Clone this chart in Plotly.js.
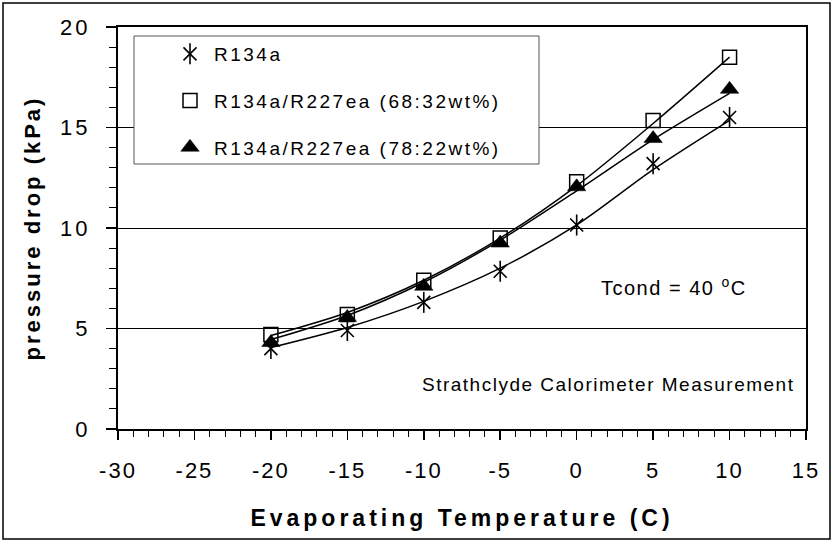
<!DOCTYPE html>
<html>
<head>
<meta charset="utf-8">
<script src="https://cdn.plot.ly/plotly-3.0.1.min.js"></script>
<style>
  body { margin: 0; padding: 0; background: #fff; }
  #chart { width: 834px; height: 544px; }
  .xtick text { letter-spacing: 2px; }
  .ytick text { letter-spacing: 3px; }
  .legendtext { letter-spacing: 2.5px; }
  text.xtitle { letter-spacing: 4px; }
  text.ytitle { letter-spacing: 3px; }
  .annotation-text { letter-spacing: 1.5px; }
</style>
</head>
<body>
<div id="chart"></div>
<script>
// Evaporating temperature (C)
const evapTemp = [-20, -15, -10, -5, 0, 5, 10];

// Measured pressure drop (kPa)
const r134a      = [4.0, 4.9, 6.3, 7.85, 10.15, 13.2, 15.5];
const mix6832    = [4.7, 5.7, 7.4, 9.5, 12.3, 15.35, 18.5];
const mix7822    = [4.3, 5.55, 7.1, 9.25, 12.05, 14.45, 16.9];

// Trend curves (kPa)
const r134aTrend   = [4.05, 5.05, 6.35, 8.0, 10.15, 12.9, 15.35];
const mix6832Trend = [4.65, 5.8, 7.4, 9.5, 12.1, 15.2, 18.5];
const mix7822Trend = [4.45, 5.65, 7.3, 9.4, 11.85, 14.4, 16.7];

// Series names
const seriesNames = ["R134a", "R134a/R227ea (68:32wt%)", "R134a/R227ea (78:22wt%)"];

// Tick labels (plain hyphen as in the reference)
const xTickVals = [-30, -25, -20, -15, -10, -5, 0, 5, 10, 15];
const xTickText = ["-30", "-25", "-20", "-15", "-10", "-5", "0", "5", "10", "15"];
const yTickVals = [0, 5, 10, 15, 20];
const yTickText = ["0", "5", "10", "15", "20"];

const FONT = "Liberation Sans, Arial, sans-serif";
const lineStyle = {color: "black", width: 1.5, shape: "spline", smoothing: 0.8};

const traces = [
  {x: evapTemp, y: mix6832Trend, mode: "lines", line: lineStyle, showlegend: false, hoverinfo: "skip"},
  {x: evapTemp, y: mix7822Trend, mode: "lines", line: lineStyle, showlegend: false, hoverinfo: "skip"},
  {x: evapTemp, y: r134aTrend, mode: "lines", line: lineStyle, showlegend: false, hoverinfo: "skip"},
  {x: evapTemp, y: r134a, name: seriesNames[0], mode: "markers", legendgroup: "a",
   marker: {symbol: "x-thin-open", size: 13, color: "black", line: {color: "black", width: 1.6}}},
  {x: evapTemp, y: mix6832, name: seriesNames[1], mode: "markers", legendgroup: "b",
   marker: {symbol: "square-open", size: 14, color: "black", line: {color: "black", width: 1.5}}},
  {x: evapTemp, y: mix7822, name: seriesNames[2], mode: "markers", legendgroup: "c",
   marker: {symbol: "triangle-up", size: 16, color: "black", line: {color: "black", width: 0.5}}},
  {x: evapTemp, y: r134a, name: "\u200b", mode: "markers", legend: "legend2",
   marker: {symbol: "line-ns-open", size: 15, color: "black", line: {color: "black", width: 1.6}}}
];

const px = v => (v - 118) / 688;
const py = v => (429 - v) / 402;

const legendCommon = {
  x: px(166), y: py(35), xanchor: "left", yanchor: "top",
  bgcolor: "rgba(0,0,0,0)", borderwidth: 0, itemwidth: 38,
  font: {family: FONT, size: 19, color: "black"}
};

const layout = {
  width: 834, height: 544,
  margin: {l: 118, r: 28, t: 27, b: 115, pad: 0},
  paper_bgcolor: "white", plot_bgcolor: "white",
  font: {family: FONT, color: "black"},
  xaxis: {
    range: [-30, 15], tickmode: "array", tickvals: xTickVals, ticktext: xTickText,
    ticks: "outside", ticklen: 9, tickwidth: 1.5, tickcolor: "black",
    showline: true, linewidth: 2, linecolor: "black", mirror: true,
    showgrid: false, zeroline: false,
    tickfont: {family: FONT, size: 22, color: "black"},
    ticklabelstandoff: 12,
    minor: {dtick: 1, tick0: 0, ticks: "outside", ticklen: 6, tickwidth: 1, tickcolor: "black", showgrid: false},
    title: {text: "<b>Evaporating Temperature (C)</b>", font: {family: FONT, size: 23, color: "black"}, standoff: 27}
  },
  yaxis: {
    range: [0, 20], tickmode: "array", tickvals: yTickVals, ticktext: yTickText,
    ticks: "outside", ticklen: 10, tickwidth: 1.5, tickcolor: "black",
    showline: true, linewidth: 2, linecolor: "black", mirror: true,
    showgrid: true, gridcolor: "black", gridwidth: 1, zeroline: false,
    tickfont: {family: FONT, size: 22, color: "black"},
    ticklabelstandoff: 11,
    minor: {dtick: 1, tick0: 0, ticks: "outside", ticklen: 7, tickwidth: 1, tickcolor: "black", showgrid: false},
    title: {text: "<b>pressure drop (kPa)</b>", font: {family: FONT, size: 22, color: "black"}, standoff: 13}
  },
  legend: Object.assign({traceorder: "grouped", tracegroupgap: 19}, legendCommon),
  legend2: Object.assign({traceorder: "normal"}, legendCommon),
  shapes: [
    {type: "rect", xref: "paper", yref: "paper", x0: px(134), x1: px(539), y0: py(164), y1: py(36),
     line: {color: "#555", width: 1}, fillcolor: "white", layer: "above"},
    {type: "rect", xref: "paper", yref: "paper", x0: px(3), x1: px(830), y0: py(539), y1: py(3),
     line: {color: "black", width: 1.5}, fillcolor: "rgba(0,0,0,0)", layer: "above"}
  ],
  annotations: [
    {xref: "paper", yref: "paper", x: px(674), y: py(286), xanchor: "center", yanchor: "middle",
     text: "Tcond = 40 <sup>o</sup>C", showarrow: false, font: {family: FONT, size: 20, color: "black"}},
    {xref: "paper", yref: "paper", x: px(796), y: py(384), xanchor: "right", yanchor: "middle",
     text: "Strathclyde Calorimeter Measurement", showarrow: false, font: {family: FONT, size: 19, color: "black"}}
  ]
};

Plotly.newPlot("chart", traces, layout, {displayModeBar: false, staticPlot: true});
</script>
</body>
</html>
